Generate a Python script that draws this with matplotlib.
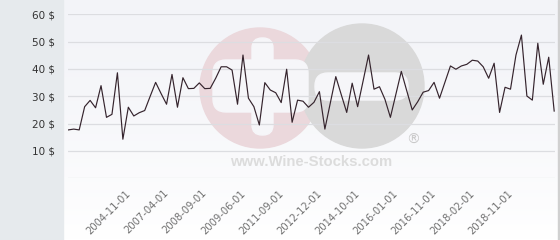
import numpy as np
import matplotlib
matplotlib.use("Agg")
import matplotlib.pyplot as plt
import matplotlib.transforms as mtransforms
from matplotlib.patches import Circle, FancyBboxPatch, Rectangle

# ---- data ----
prices = [17.7, 18.0, 17.7, 26.2, 28.5, 25.8, 33.9, 22.3, 23.4, 38.6,
          14.3, 26.0, 22.8, 24.0, 24.8, 30.0, 35.1, 31.0, 27.1, 38.0,
          26.0, 36.8, 32.8, 32.9, 34.9, 32.8, 32.9, 36.6, 40.8, 40.8,
          39.6, 27.1, 45.1, 29.3, 26.2, 19.5, 35.0, 32.3, 31.3, 27.7,
          39.9, 20.5, 28.6, 28.2, 26.0, 27.8, 31.7, 18.0, 27.6, 37.2,
          30.6, 24.1, 34.8, 26.2, 35.6, 45.1, 32.6, 33.5, 28.9, 22.3,
          30.7, 39.1, 32.0, 25.0, 28.0, 31.5, 32.1, 35.1, 29.3, 35.2,
          41.1, 39.9, 41.1, 41.7, 43.2, 42.9, 40.8, 36.6, 42.1, 24.1,
          33.3, 32.6, 45.1, 52.4, 30.1, 28.6, 49.4, 34.4, 44.3, 24.6]
tick_labels = ["2004-11-01", "2007-04-01", "2008-09-01", "2009-06-01",
               "2011-09-01", "2012-12-01", "2014-10-01", "2016-01-01",
               "2016-11-01", "2018-02-01", "2018-11-01"]
tick_start, tick_step = 11, 7
y_ticks = [10, 20, 30, 40, 50, 60]

W, H = 560, 240
fig = plt.figure(figsize=(W / 100, H / 100), dpi=100)

# ---- background + watermark layer (pixel coordinates) ----
bg = fig.add_axes([0, 0, 1, 1], zorder=0)
bg.set_xlim(0, W)
bg.set_ylim(H, 0)
bg.axis("off")
grad = np.linspace(0, 1, 100).reshape(-1, 1)
top = np.array([0.953, 0.957, 0.973])
bot = np.array([1.0, 1.0, 1.0])
img = top + (bot - top) * grad[..., None] ** 1.5
bg.imshow(img.reshape(100, 1, 3), extent=[63, W, H, 0], aspect="auto", zorder=0)
bg.add_patch(Rectangle((0, 0), 63, H, color="#e6eaed", zorder=1))
bg.add_patch(Rectangle((557.5, 0), 1.2, H, color="#d0d0d0", zorder=1))

pink = "#ebd8dc"
grey = "#d9d9d9"
wm_white = "#f6f6f9"
bg.add_patch(Circle((260, 88), 60, color=pink, zorder=2))
bg.add_patch(Circle((362, 86), 62, color=grey, zorder=3))
bg.add_patch(FancyBboxPatch((213 + 13, 73), 95 - 26, 26,
                            boxstyle="round,pad=13,rounding_size=13",
                            color=wm_white, zorder=4))
bg.add_patch(FancyBboxPatch((252 + 10, 38 + 10), 1, 97 - 20,
                            boxstyle="round,pad=10,rounding_size=10",
                            color=wm_white, zorder=4))
bg.add_patch(FancyBboxPatch((315 + 13, 73 + 13), 93 - 26, 1,
                            boxstyle="round,pad=13,rounding_size=13",
                            color=wm_white, zorder=4))
bg.text(311, 162, "www.Wine-Stocks.com", ha="center", va="center",
        fontsize=10.7, fontweight="bold", family="Liberation Sans",
        color="#dcdcdc", zorder=5)
bg.text(413, 140, "®", ha="center", va="center", fontsize=10,
        color="#c9c9c9", zorder=5)

# ---- chart ----
ax = fig.add_axes([68 / W, 1 - 178.3 / H, (555 - 68) / W, (178.3 - 14.3) / H], zorder=2)
ax.patch.set_alpha(0)
x = np.arange(len(prices))
ax.plot(x, prices, color="#35242d", lw=0.85, zorder=3)
ax.set_xlim(-0.05, len(prices) - 1 + 0.15)
ax.set_ylim(0, 60)
ax.set_yticks([0] + y_ticks)
ax.set_yticklabels([""] + [f"{v} $" for v in y_ticks])
ax.grid(axis="y", color="#dcdde1", lw=0.9)
ax.set_axisbelow(True)
for s in ax.spines.values():
    s.set_visible(False)
ax.tick_params(axis="y", length=0, pad=9, labelsize=7.5, labelcolor="#333333")
tick_pos = [tick_start + k * tick_step for k in range(len(tick_labels))]
ax.set_xticks(tick_pos)
ax.set_xticklabels(tick_labels, rotation=45, ha="right", va="top",
                   rotation_mode="anchor")
ax.tick_params(axis="x", length=0, pad=7, labelsize=7.2, labelcolor="#707070")
shift = mtransforms.ScaledTranslation(-3 / 100, 0, fig.dpi_scale_trans)
for lbl in ax.get_xticklabels():
    lbl.set_transform(lbl.get_transform() + shift)

fig.savefig("out.png", dpi=100)
